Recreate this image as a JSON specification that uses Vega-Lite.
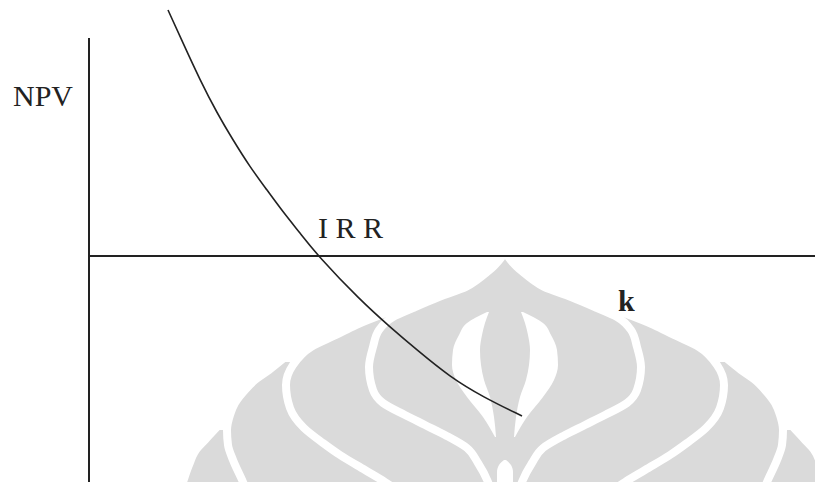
{
  "$schema": "https://vega.github.io/schema/vega-lite/v6.json",
  "width": 815,
  "height": 482,
  "padding": 0,
  "autosize": {"type": "fit", "contains": "padding"},
  "background": "white",
  "config": {"view": {"stroke": null}},
  "datasets": {
    "wm": [
      {"shape": "outermost", "npv": -170, "xl": 12.9, "xr": 70.3},
      {"shape": "outermost", "npv": -184, "xl": 11.6, "xr": 71.6},
      {"shape": "outermost", "npv": -194, "xl": 10.7, "xr": 72.5},
      {"shape": "outermost", "npv": -209, "xl": 10.0, "xr": 73.2},
      {"shape": "outermost", "npv": -226, "xl": 9.4, "xr": 73.8},
      {"shape": "outermost", "npv": -244, "xl": 8.8, "xr": 74.4},
      {"shape": "outer", "npv": -102, "xl": 19.5, "xr": 63.7},
      {"shape": "outer", "npv": -114, "xl": 18.0, "xr": 65.2},
      {"shape": "outer", "npv": -124, "xl": 16.6, "xr": 66.6},
      {"shape": "outer", "npv": -134, "xl": 15.6, "xr": 67.6},
      {"shape": "outer", "npv": -147, "xl": 14.6, "xr": 68.6},
      {"shape": "outer", "npv": -159, "xl": 14.1, "xr": 69.1},
      {"shape": "outer", "npv": -174, "xl": 13.8, "xr": 69.4},
      {"shape": "outer", "npv": -189, "xl": 13.9, "xr": 69.3},
      {"shape": "outer", "npv": -204, "xl": 14.4, "xr": 68.8},
      {"shape": "outer", "npv": -226, "xl": 15.4, "xr": 67.8},
      {"shape": "outer", "npv": -244, "xl": 16.1, "xr": 67.1},
      {"shape": "middle", "npv": -57, "xl": 29.7, "xr": 53.5},
      {"shape": "middle", "npv": -69, "xl": 26.7, "xr": 56.5},
      {"shape": "middle", "npv": -79, "xl": 24.7, "xr": 58.5},
      {"shape": "middle", "npv": -91, "xl": 22.2, "xr": 61.0},
      {"shape": "middle", "npv": -109, "xl": 20.4, "xr": 62.8},
      {"shape": "middle", "npv": -129, "xl": 19.7, "xr": 63.5},
      {"shape": "middle", "npv": -152, "xl": 20.1, "xr": 63.1},
      {"shape": "middle", "npv": -172, "xl": 21.5, "xr": 61.7},
      {"shape": "middle", "npv": -187, "xl": 23.4, "xr": 59.8},
      {"shape": "middle", "npv": -199, "xl": 25.1, "xr": 58.1},
      {"shape": "middle", "npv": -214, "xl": 27.6, "xr": 55.6},
      {"shape": "middle", "npv": -226, "xl": 29.6, "xr": 53.6},
      {"shape": "middle", "npv": -244, "xl": 32.1, "xr": 51.1},
      {"shape": "dome", "npv": 5, "xl": 41.6, "xr": 41.6},
      {"shape": "dome", "npv": -2, "xl": 41.2, "xr": 42.0},
      {"shape": "dome", "npv": -9, "xl": 40.6, "xr": 42.6},
      {"shape": "dome", "npv": -17, "xl": 39.7, "xr": 43.5},
      {"shape": "dome", "npv": -24, "xl": 38.8, "xr": 44.4},
      {"shape": "dome", "npv": -31, "xl": 37.7, "xr": 45.5},
      {"shape": "dome", "npv": -41, "xl": 35.0, "xr": 48.2},
      {"shape": "dome", "npv": -52, "xl": 32.4, "xr": 50.8},
      {"shape": "dome", "npv": -61, "xl": 30.4, "xr": 52.8},
      {"shape": "dome", "npv": -74, "xl": 29.0, "xr": 54.2},
      {"shape": "dome", "npv": -91, "xl": 28.4, "xr": 54.8},
      {"shape": "dome", "npv": -111, "xl": 28.0, "xr": 55.2},
      {"shape": "dome", "npv": -134, "xl": 28.4, "xr": 54.8},
      {"shape": "dome", "npv": -147, "xl": 29.4, "xr": 53.8},
      {"shape": "dome", "npv": -159, "xl": 31.6, "xr": 51.6},
      {"shape": "dome", "npv": -169, "xl": 33.6, "xr": 49.6},
      {"shape": "dome", "npv": -179, "xl": 35.6, "xr": 47.6},
      {"shape": "dome", "npv": -192, "xl": 37.8, "xr": 45.4},
      {"shape": "dome", "npv": -207, "xl": 38.9, "xr": 44.3},
      {"shape": "dome", "npv": -226, "xl": 39.9, "xr": 43.3},
      {"shape": "dome", "npv": -244, "xl": 40.4, "xr": 42.8},
      {"shape": "slitR", "npv": -56, "xl": 43.2, "xr": 43.4},
      {"shape": "slitR", "npv": -67, "xl": 43.6, "xr": 45.4},
      {"shape": "slitR", "npv": -79, "xl": 43.9, "xr": 46.2},
      {"shape": "slitR", "npv": -94, "xl": 44.1, "xr": 46.8},
      {"shape": "slitR", "npv": -109, "xl": 44.0, "xr": 46.9},
      {"shape": "slitR", "npv": -124, "xl": 43.7, "xr": 46.5},
      {"shape": "slitR", "npv": -141, "xl": 43.1, "xr": 45.4},
      {"shape": "slitR", "npv": -161, "xl": 42.7, "xr": 43.8},
      {"shape": "slitR", "npv": -181, "xl": 42.5, "xr": 42.6},
      {"shape": "slitL", "npv": -56, "xl": 39.8, "xr": 40.0},
      {"shape": "slitL", "npv": -67, "xl": 37.8, "xr": 39.6},
      {"shape": "slitL", "npv": -79, "xl": 37.0, "xr": 39.3},
      {"shape": "slitL", "npv": -94, "xl": 36.4, "xr": 39.1},
      {"shape": "slitL", "npv": -109, "xl": 36.3, "xr": 39.2},
      {"shape": "slitL", "npv": -124, "xl": 36.7, "xr": 39.5},
      {"shape": "slitL", "npv": -141, "xl": 37.8, "xr": 40.1},
      {"shape": "slitL", "npv": -161, "xl": 39.4, "xr": 40.5},
      {"shape": "slitL", "npv": -181, "xl": 40.6, "xr": 40.7},
      {"shape": "arch", "npv": -204, "xl": 41.5, "xr": 41.7},
      {"shape": "arch", "npv": -209, "xl": 41.0, "xr": 42.2},
      {"shape": "arch", "npv": -216, "xl": 40.8, "xr": 42.4},
      {"shape": "arch", "npv": -226, "xl": 40.8, "xr": 42.4},
      {"shape": "arch", "npv": -244, "xl": 40.8, "xr": 42.4}
    ],
    "curve": [
      {"k": 7.9, "npv": 246},
      {"k": 9.4, "npv": 213},
      {"k": 11.1, "npv": 176},
      {"k": 12.8, "npv": 143},
      {"k": 14.4, "npv": 116},
      {"k": 16.1, "npv": 89},
      {"k": 17.8, "npv": 66},
      {"k": 19.4, "npv": 44},
      {"k": 21.1, "npv": 23},
      {"k": 22.9, "npv": 0},
      {"k": 27.1, "npv": -44},
      {"k": 30.1, "npv": -71},
      {"k": 32.8, "npv": -94},
      {"k": 36.1, "npv": -121},
      {"k": 39.4, "npv": -141},
      {"k": 43.3, "npv": -160}
    ],
    "axes": [
      {"k": 0, "k2": 0, "npv": 218, "npv2": -240},
      {"k": 0, "k2": 75, "npv": 0, "npv2": 0}
    ],
    "labels": [
      {"k": -7.6, "npv": 150, "label": "NPV"},
      {"k": 22.9, "npv": 18.3, "label": "I R R"}
    ],
    "boldlabels": [
      {"k": 52.9, "npv": -55, "label": "k"}
    ]
  },
  "encoding": {
    "y": {"field": "npv", "type": "quantitative", "axis": null, "scale": {"domain": [-226, 256], "nice": false, "zero": false}}
  },
  "layer": [
    {
      "data": {"name": "wm"},
      "transform": [{"filter": "datum.shape === 'outermost'"}],
      "mark": {"type": "area", "orient": "horizontal", "fill": "#dadada", "stroke": "white", "strokeWidth": 8, "strokeJoin": "round", "interpolate": "monotone", "clip": true},
      "encoding": {
        "x": {"field": "xl", "type": "quantitative", "axis": null, "scale": {"domain": [-8.9, 72.6], "nice": false, "zero": false}},
        "x2": {"field": "xr"}
      }
    },
    {
      "data": {"name": "wm"},
      "transform": [{"filter": "datum.shape === 'outer'"}],
      "mark": {"type": "area", "orient": "horizontal", "fill": "#dadada", "stroke": "white", "strokeWidth": 8, "strokeJoin": "round", "interpolate": "monotone", "clip": true},
      "encoding": {
        "x": {"field": "xl", "type": "quantitative", "axis": null},
        "x2": {"field": "xr"}
      }
    },
    {
      "data": {"name": "wm"},
      "transform": [{"filter": "datum.shape === 'middle'"}],
      "mark": {"type": "area", "orient": "horizontal", "fill": "#dadada", "stroke": "white", "strokeWidth": 8, "strokeJoin": "round", "interpolate": "monotone", "clip": true},
      "encoding": {
        "x": {"field": "xl", "type": "quantitative", "axis": null},
        "x2": {"field": "xr"}
      }
    },
    {
      "data": {"name": "wm"},
      "transform": [{"filter": "datum.shape === 'dome'"}],
      "mark": {"type": "area", "orient": "horizontal", "fill": "#dadada", "stroke": "white", "strokeWidth": 8, "strokeJoin": "round", "interpolate": "monotone", "clip": true},
      "encoding": {
        "x": {"field": "xl", "type": "quantitative", "axis": null},
        "x2": {"field": "xr"}
      }
    },
    {
      "data": {"name": "wm"},
      "transform": [{"filter": "datum.shape === 'slitL' || datum.shape === 'slitR' || datum.shape === 'arch'"}],
      "mark": {"type": "area", "orient": "horizontal", "fill": "white", "interpolate": "monotone", "clip": true},
      "encoding": {
        "x": {"field": "xl", "type": "quantitative", "axis": null},
        "x2": {"field": "xr"},
        "detail": {"field": "shape"}
      }
    },
    {
      "data": {"name": "axes"},
      "mark": {"type": "rule", "color": "#222222", "strokeWidth": 2, "clip": true},
      "encoding": {
        "x": {"field": "k", "type": "quantitative", "axis": null},
        "x2": {"field": "k2"},
        "y": {"field": "npv", "type": "quantitative", "axis": null},
        "y2": {"field": "npv2"}
      }
    },
    {
      "data": {"name": "curve"},
      "mark": {"type": "line", "color": "#222222", "strokeWidth": 1.6, "interpolate": "basis"},
      "encoding": {
        "x": {"field": "k", "type": "quantitative", "axis": null},
        "y": {"field": "npv", "type": "quantitative", "axis": null}
      }
    },
    {
      "data": {"name": "labels"},
      "mark": {"type": "text", "align": "left", "baseline": "alphabetic", "font": "Liberation Serif", "fontSize": 30, "color": "#222222"},
      "encoding": {
        "x": {"field": "k", "type": "quantitative", "axis": null},
        "y": {"field": "npv", "type": "quantitative", "axis": null},
        "text": {"field": "label"}
      }
    },
    {
      "data": {"name": "boldlabels"},
      "mark": {"type": "text", "align": "left", "baseline": "alphabetic", "font": "Liberation Serif", "fontSize": 30, "fontWeight": "bold", "color": "#222222"},
      "encoding": {
        "x": {"field": "k", "type": "quantitative", "axis": null},
        "y": {"field": "npv", "type": "quantitative", "axis": null},
        "text": {"field": "label"}
      }
    }
  ]
}
